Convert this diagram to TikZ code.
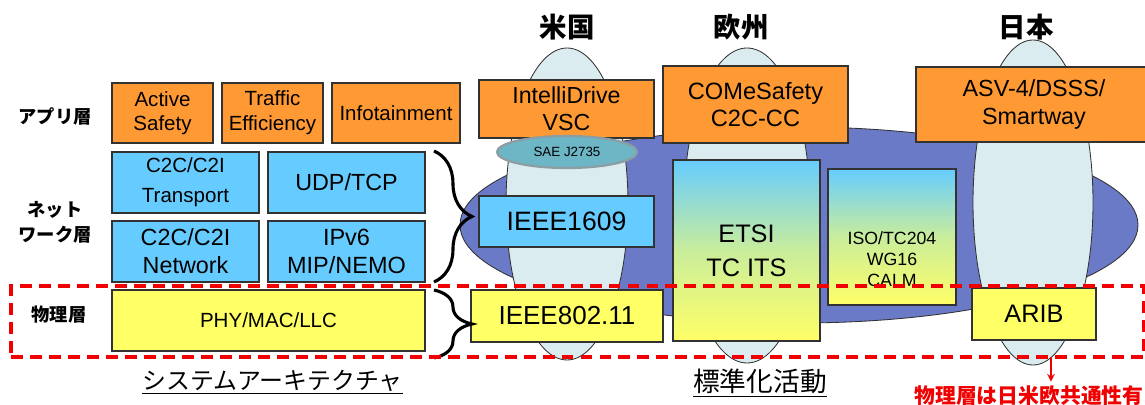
\documentclass[tikz,border=0pt]{standalone}
\usepackage{fontspec}
\setmainfont{Liberation Sans}
\newfontfamily\jp{Noto Sans CJK JP}
\usetikzlibrary{shapes.geometric,decorations.pathreplacing}

\definecolor{appli}{RGB}{255,153,51}
\definecolor{netz}{RGB}{102,204,255}
\definecolor{phys}{RGB}{255,255,102}
\definecolor{oval}{RGB}{218,236,239}
\definecolor{pool}{RGB}{107,122,199}
\definecolor{saefill}{RGB}{108,182,198}
\definecolor{saerim}{RGB}{140,158,163}
\definecolor{rim}{RGB}{50,50,50}
\definecolor{alarm}{RGB}{240,0,0}

\newdimen\pxu \pxu=0.025cm
\newcommand{\fsz}[2]{\fontsize{#1}{#2}\selectfont}

\begin{document}
\begin{tikzpicture}[%
    x=0.025cm,
    y=-0.025cm,
    box/.style={%
      rectangle,
      draw=rim,
      line width=0.9pt,
      inner sep=0pt,
      align=center
    },
    apl/.style={box, fill=appli},
    nwk/.style={box, fill=netz},
    phy/.style={box, fill=phys},
    grad/.style={box, top color=netz, bottom color=phys, middle color=netz!35!phys},
    lens/.style={ellipse, draw=rim, line width=0.6pt, fill=oval, inner sep=0pt},
    layer/.style={font=\jp\bfseries\fsz{13}{18}, align=center},
    region/.style={font=\jp\bfseries\fsz{19.5}{22}},
    brc/.style={decorate, decoration={brace, amplitude=27pt}, line width=2.2pt}
  ]
    \useasboundingbox (0,0) rectangle (1145,405);

    % background ovals
    \node[ellipse, draw=rim, line width=0.6pt, fill=pool, inner sep=0pt,
          minimum width=678\pxu, minimum height=196\pxu] (blob) at (799,225) {};
    \node[lens, minimum width=122\pxu, minimum height=312\pxu] (uslens) at (567,204) {};
    \node[lens, minimum width=126\pxu, minimum height=315\pxu] (eulens) at (747,205.5) {};
    \node[lens, minimum width=120\pxu, minimum height=325\pxu] (jplens) at (1033,202.5) {};

    % system architecture
    \node[layer] (aplab) at (55,116) {アプリ層};
    \node[layer] (nwlab) at (55,222) {ネット\\ワーク層};
    \node[layer] (phlab) at (59,315) {物理層};

    \node[apl, minimum width=101\pxu, minimum height=60\pxu, font=\fsz{14.6}{17}] (active) at (162.5,113) {Active\\Safety};
    \node[apl, minimum width=101\pxu, minimum height=60\pxu, font=\fsz{14.6}{17.5}] (traffic) at (272.5,113) {Traffic\\Efficiency};
    \node[apl, minimum width=128\pxu, minimum height=60\pxu, font=\fsz{14.6}{17}] (info) at (396,113) {Infotainment};

    \node[nwk, minimum width=147\pxu, minimum height=61\pxu, font=\fsz{14.6}{21.3}] (trans) at (185.5,182.5) {C2C/C2I\\Transport};
    \node[nwk, minimum width=157\pxu, minimum height=61\pxu, font=\fsz{16.6}{20}] (udp) at (346.5,182.5) {UDP/TCP};
    \node[nwk, minimum width=147\pxu, minimum height=61\pxu, font=\fsz{16.6}{20}] (net) at (185.5,251.5) {C2C/C2I\\Network};
    \node[nwk, minimum width=157\pxu, minimum height=61\pxu, font=\fsz{16.7}{20}] (ipv6) at (346.5,251.5) {IPv6\\MIP/NEMO};
    \node[phy, minimum width=313\pxu, minimum height=61\pxu, font=\fsz{14.6}{17}] (mac) at (268.5,320.5) {PHY/MAC/LLC};

    % standards
    \node[apl, minimum width=175\pxu, minimum height=58\pxu, font=\fsz{16.5}{19}] (intelli) at (566.5,109) {IntelliDrive\\VSC};
    \node[nwk, minimum width=175\pxu, minimum height=51\pxu, font=\fsz{18.9}{22}] (p1609) at (566.5,221.5) {IEEE1609};
    \node[phy, minimum width=192\pxu, minimum height=52\pxu, font=\fsz{18.5}{22}] (p80211) at (567,316) {IEEE802.11};
    \node[ellipse, draw=saerim, line width=1.6pt, fill=saefill, inner sep=0pt,
          minimum width=140\pxu, minimum height=32\pxu, font=\fsz{9.5}{11}] (j2735) at (567,152) {SAE J2735};

    \node[apl, minimum width=185\pxu, minimum height=77\pxu, font=\fsz{16.8}{19}] (comes) at (755.5,104.5) {COMeSafety\\C2C-CC};
    \node[grad, minimum width=147\pxu, minimum height=181\pxu, font=\fsz{18}{24}] (etsi) at (746.5,250.5) {ETSI\\TC ITS};
    \node[grad, minimum width=128\pxu, minimum height=136\pxu] (iso) at (892,237) {};
    \node[align=center, inner sep=0pt, font=\fsz{12.6}{15}] (isotext) at (892,259) {ISO/TC204\\WG16\\CALM};

    \node[apl, minimum width=236\pxu, minimum height=75\pxu, font=\fsz{16.6}{20.5}] (asv) at (1034,104.5) {ASV-4/DSSS/\\Smartway};
    \node[phy, minimum width=124\pxu, minimum height=52\pxu, font=\fsz{18}{22}] (arib) at (1034,314) {ARIB};

    % braces
    \draw[brc] (434,151) -- (434,282);
    \draw[brc] (434,290) -- (434,358);

    % common physical layer
    \node[draw=alarm, line width=2.3pt, dash pattern=on 8.5pt off 5pt,
          minimum width=1133\pxu, minimum height=71\pxu] (band) at (577.5,321.5) {};
    \node[font=\jp\bfseries\fsz{14.8}{17}, text=alarm, inner sep=0pt] (common) at (1029,396) {物理層は日米欧共通性有};
    \coordinate (drop) at (1051,357);
    \draw[->, >=stealth, alarm, line width=1.4pt, shorten >=3pt] (drop) -- (drop |- common.north);

    % headings
    \node[region] (usa) at (567,27) {米国};
    \node[region] (eur) at (741,27) {欧州};
    \node[region] (jpn) at (1026,27) {日本};
    \node[font=\jp\fsz{17}{20}] (sysarch) at (272.5,382) {\underline{システムアーキテクチャ}};
    \node[font=\jp\fsz{19}{22}] (stdact) at (760,383) {\underline{標準化活動}};
\end{tikzpicture}
\end{document}
